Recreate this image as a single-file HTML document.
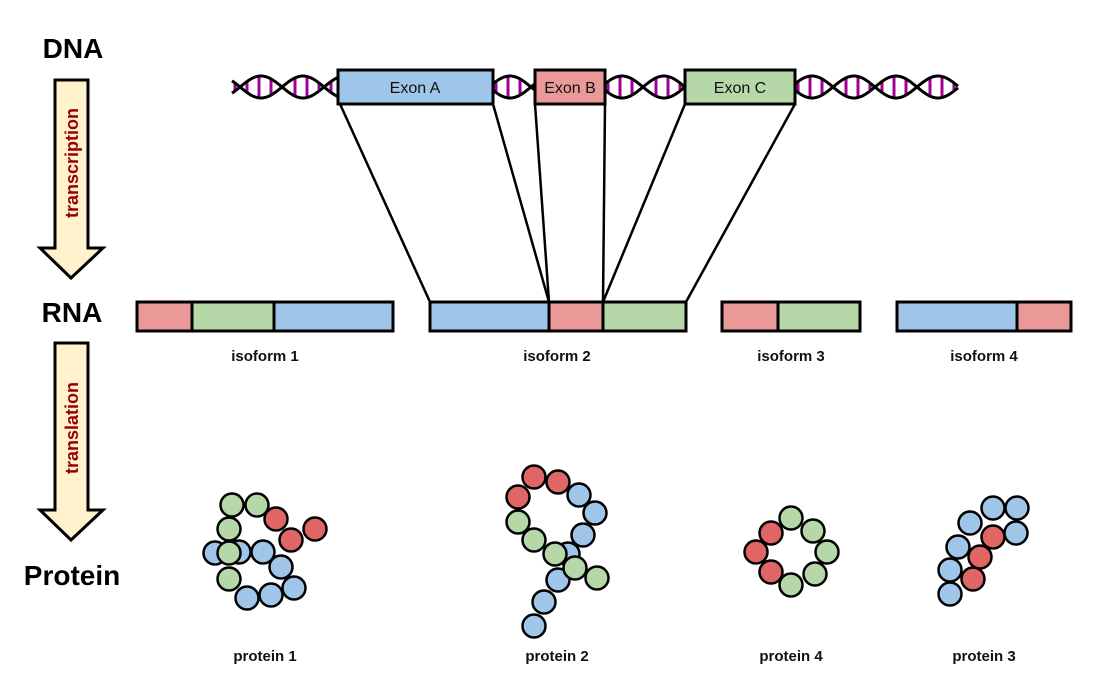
<!DOCTYPE html>
<html><head><meta charset="utf-8"><style>
body{margin:0;background:#fff;}
svg{display:block;font-family:"Liberation Sans",sans-serif;}
</style></head><body>
<svg id="s" width="1105" height="689" viewBox="0 0 1105 689" xmlns="http://www.w3.org/2000/svg">
<g id="helix"></g>
<g stroke="#000" stroke-width="2.5" fill="none">
<line x1="340" y1="104" x2="430" y2="302"/>
<line x1="493" y1="104" x2="549" y2="302"/>
<line x1="535" y1="104" x2="549" y2="302"/>
<line x1="605" y1="104" x2="603" y2="302"/>
<line x1="685" y1="104" x2="603" y2="302"/>
<line x1="795" y1="104" x2="686" y2="302"/>
</g>
<g stroke="#000" stroke-width="3">
<rect x="338" y="70" width="155" height="34" fill="#9fc5e8"/>
<rect x="535" y="70" width="70" height="34" fill="#ea9999"/>
<rect x="685" y="70" width="110" height="34" fill="#b6d7a8"/>
</g>
<g font-size="16" text-anchor="middle" fill="#111">
<text x="415" y="93">Exon A</text>
<text x="570" y="93">Exon B</text>
<text x="740" y="93">Exon C</text>
</g>
<g stroke="#000" stroke-width="3">
<rect x="137" y="302" width="55" height="29" fill="#ea9999"/>
<rect x="192" y="302" width="82" height="29" fill="#b6d7a8"/>
<rect x="274" y="302" width="119" height="29" fill="#9fc5e8"/>
<rect x="430" y="302" width="119" height="29" fill="#9fc5e8"/>
<rect x="549" y="302" width="54" height="29" fill="#ea9999"/>
<rect x="603" y="302" width="83" height="29" fill="#b6d7a8"/>
<rect x="722" y="302" width="56" height="29" fill="#ea9999"/>
<rect x="778" y="302" width="82" height="29" fill="#b6d7a8"/>
<rect x="897" y="302" width="120" height="29" fill="#9fc5e8"/>
<rect x="1017" y="302" width="54" height="29" fill="#ea9999"/>
</g>
<g font-size="15" font-weight="bold" text-anchor="middle" fill="#111">
<text x="265" y="361">isoform 1</text>
<text x="557" y="361">isoform 2</text>
<text x="791" y="361">isoform 3</text>
<text x="984" y="361">isoform 4</text>
<text x="265" y="661">protein 1</text>
<text x="557" y="661">protein 2</text>
<text x="791" y="661">protein 4</text>
<text x="984" y="661">protein 3</text>
</g>
<g font-size="28" font-weight="bold" text-anchor="middle" fill="#000">
<text x="73" y="58">DNA</text>
<text x="72" y="322">RNA</text>
<text x="72" y="585">Protein</text>
</g>
<g fill="#fff2cc" stroke="#000" stroke-width="3" stroke-linejoin="miter">
<path d="M55 80 H88 V248 H103 L71 278 L40 248 H55 Z"/>
<path d="M55 343 H88 V510 H103 L71 540 L40 510 H55 Z"/>
</g>
<g font-size="18" font-weight="bold" fill="#990000" text-anchor="middle">
<text transform="translate(78,163) rotate(-90)">transcription</text>
<text transform="translate(78,428) rotate(-90)">translation</text>
</g>
<g id="prot" stroke="#000" stroke-width="2.5"></g>
</svg>
<script>
var NS="http://www.w3.org/2000/svg";
var h=document.getElementById("helix");
function seg(x0,x1,ph){
  var cy=87,A=11,L=84,d1="",d2="";
  for(var x=x0;x<=x1;x+=1){
    var t=(x-x0)/L*2*Math.PI+ph;
    var y1=cy+A*Math.sin(t),y2=cy-A*Math.sin(t);
    d1+=(x==x0?"M":"L")+x+" "+y1.toFixed(1);
    d2+=(x==x0?"M":"L")+x+" "+y2.toFixed(1);
  }
  for(var x=x0+3;x<x1;x+=12){
    var t=(x-x0)/L*2*Math.PI+ph, a=A*Math.abs(Math.sin(t));
    if(a<4)continue;
    var r=document.createElementNS(NS,"line");
    r.setAttribute("x1",x);r.setAttribute("x2",x);
    r.setAttribute("y1",cy-a);r.setAttribute("y2",cy+a);
    r.setAttribute("stroke","#a0009a");r.setAttribute("stroke-width","3");
    h.appendChild(r);
  }
  [d1,d2].forEach(function(d){var p=document.createElementNS(NS,"path");
    p.setAttribute("d",d);p.setAttribute("fill","none");p.setAttribute("stroke","#000");p.setAttribute("stroke-width","3");h.appendChild(p);});
}
seg(232,338,-0.6);seg(493,535,0.3);seg(605,685,0.3);seg(795,958,0.3);
var G="#b6d7a8",R="#e06666",B="#9fc5e8";
var c=[
[215,553,B],[239,552,B],[232,505,G],[257,505,G],[276,519,R],[315,529,R],[291,540,R],[229,529,G],[229,553,G],[263,552,B],[281,567,B],[229,579,G],[294,588,B],[271,595,B],[247,598,B],
[534,477,R],[558,482,R],[518,497,R],[579,495,B],[595,513,B],[518,522,G],[583,535,B],[568,554,B],[558,580,B],[534,540,G],[555,554,G],[575,568,G],[597,578,G],[544,602,B],[534,626,B],
[791,518,G],[771,533,R],[813,531,G],[756,552,R],[827,552,G],[771,572,R],[815,574,G],[791,585,G],
[993,508,B],[1017,508,B],[970,523,B],[1016,533,B],[993,537,R],[958,547,B],[980,557,R],[950,570,B],[973,579,R],[950,594,B]
];
var g=document.getElementById("prot");
c.forEach(function(a){var e=document.createElementNS(NS,"circle");
e.setAttribute("cx",a[0]);e.setAttribute("cy",a[1]);e.setAttribute("r",11.5);e.setAttribute("fill",a[2]);g.appendChild(e);});
</script>
</body></html>
